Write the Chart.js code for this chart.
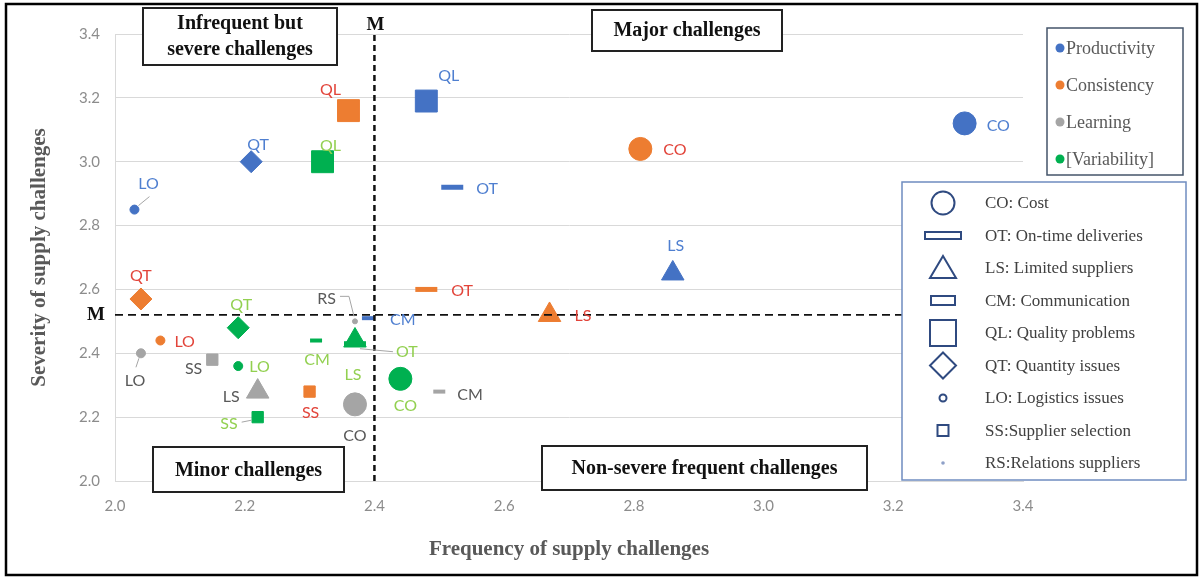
<!DOCTYPE html>
<html>
<head>
<meta charset="UTF-8">
<script src="https://cdn.jsdelivr.net/npm/chart.js@4.4.1/dist/chart.umd.min.js"></script>
<style>
  html, body { margin: 0; padding: 0; background: #fff; }
</style>
</head>
<body>
<canvas id="myChart" width="1201" height="579"></canvas>
<script>
// mean lines ("M")
const meanFreq = 2.40;
const meanSev = 2.52;

// axis ticks
const freqTicks = [2.0, 2.2, 2.4, 2.6, 2.8, 3.0, 3.2, 3.4];
const sevTicks = [2.0, 2.2, 2.4, 2.6, 2.8, 3.0, 3.2, 3.4];

// Productivity
const prodCodes = ['CO', 'QL', 'OT', 'LS', 'QT', 'LO', 'CM'];
const prodFreq  = [3.31, 2.48, 2.52, 2.86, 2.21, 2.03, 2.39];
const prodSev   = [3.12, 3.19, 2.92, 2.65, 3.00, 2.85, 2.51];

// Consistency
const consCodes = ['CO', 'QL', 'OT', 'LS', 'QT', 'LO', 'SS'];
const consFreq  = [2.81, 2.36, 2.48, 2.67, 2.04, 2.07, 2.30];
const consSev   = [3.04, 3.16, 2.60, 2.52, 2.57, 2.44, 2.28];

// Learning
const learnCodes = ['CO', 'LS', 'SS', 'LO', 'CM', 'RS'];
const learnFreq  = [2.37, 2.22, 2.15, 2.04, 2.50, 2.37];
const learnSev   = [2.24, 2.28, 2.38, 2.40, 2.28, 2.50];

// [Variability]
const varCodes = ['CO', 'QL', 'QT', 'LO', 'SS', 'CM', 'LS', 'OT'];
const varFreq  = [2.44, 2.32, 2.19, 2.19, 2.22, 2.31, 2.37, 2.37];
const varSev   = [2.32, 3.00, 2.48, 2.36, 2.20, 2.44, 2.44, 2.43];

// marker shape per challenge type
const markerStyle = {
  CO: { style: 'circle',   r: 11.5, bw: 1 },
  OT: { style: 'line',     r: 11,   bw: 5 },
  LS: { style: 'triangle', r: 13,   bw: 1 },
  CM: { style: 'line',     r: 6,    bw: 4 },
  QL: { style: 'rect',     r: 15.5, bw: 1 },
  QT: { style: 'rectRot',  r: 11,   bw: 1 },
  LO: { style: 'circle',   r: 4.5,  bw: 1 },
  SS: { style: 'rect',     r: 8,    bw: 1 },
  RS: { style: 'circle',   r: 2.5,  bw: 1 }
};

// label placement: [dx, dy, align, leader path]
const labelPos = {
  Productivity: {
    CO: [22, 2, 'left'], QL: [12, -25, 'left'], OT: [24, 2, 'left'], LS: [3, -28, 'center'],
    QT: [7, -17, 'center'], LO: [14, -26, 'center', [[4, -4], [15, -13]]], CM: [22, 2, 'left']
  },
  Consistency: {
    CO: [23, 1, 'left'], QL: [-18, -21, 'center'], OT: [25, 1, 'left'], LS: [25, 1, 'left'],
    QT: [0, -23, 'center'], LO: [14, 1, 'left'], SS: [1, 21, 'center']
  },
  Learning: {
    CO: [0, 31, 'center'], LS: [-18, 5, 'right'], SS: [-10, 9, 'right'],
    LO: [-6, 28, 'center', [[-2, 5], [-5, 14]]], CM: [18, 3, 'left'],
    RS: [-19, -23, 'right', [[-15, -25], [-6, -25], [-1, -5]]]
  },
  Variability: {
    CO: [5, 27, 'center'], QL: [8, -16, 'center'], QT: [3, -23, 'center'], LO: [11, 1, 'left'],
    SS: [-20, 7, 'right', [[-16, 5], [-6, 3]]], CM: [1, 19, 'center'], LS: [-2, 34, 'center'],
    OT: [41, 8, 'left', [[5, 5], [38, 8]]]
  }
};

function makeSet(label, codes, fx, sy, color, textColor) {
  return {
    label: label,
    codes: codes,
    textColor: textColor,
    data: codes.map((c, i) => ({ x: fx[i], y: sy[i] })),
    pointStyle: codes.map(c => markerStyle[c].style),
    pointRadius: codes.map(c => markerStyle[c].r),
    pointBorderWidth: codes.map(c => markerStyle[c].bw),
    backgroundColor: color,
    borderColor: color,
    showLine: false
  };
}

const serif = '"Liberation Serif", "Times New Roman", serif';
const sans = 'Lato, "Open Sans", sans-serif';

const decor = {
  id: 'decor',
  beforeDraw(chart) {
    const c = chart.ctx;
    c.save();
    c.fillStyle = '#fff';
    c.fillRect(0, 0, chart.width, chart.height);
    c.restore();
  },
  afterDatasetsDraw(chart) {
    const c = chart.ctx;
    c.save();
    c.font = '16px ' + sans;
    c.textBaseline = 'middle';
    chart.data.datasets.forEach((ds, di) => {
      if (!ds.codes) return;
      const meta = chart.getDatasetMeta(di);
      const pos = labelPos[ds.label];
      ds.codes.forEach((code, i) => {
        const p = meta.data[i];
        const lp = pos[code];
        if (!lp) return;
        if (lp[3]) {
          c.strokeStyle = '#a6a6a6';
          c.lineWidth = 1;
          c.beginPath();
          lp[3].forEach((q, k) => {
            if (k === 0) c.moveTo(p.x + q[0], p.y + q[1]);
            else c.lineTo(p.x + q[0], p.y + q[1]);
          });
          c.stroke();
        }
        c.fillStyle = ds.textColor;
        c.textAlign = lp[2];
        c.fillText(code, p.x + lp[0], p.y + lp[1]);
      });
    });
    c.restore();
  },
  afterDraw(chart) {
    const c = chart.ctx;
    c.save();

    // quadrant boxes
    const boxes = [
      { x: 143, y: 8, w: 194, h: 57, lines: ['Infrequent but', 'severe challenges'], ty: [24, 50] },
      { x: 592, y: 10, w: 190, h: 41, lines: ['Major challenges'], ty: [31] },
      { x: 153, y: 447, w: 191, h: 45, lines: ['Minor challenges'], ty: [471] },
      { x: 542, y: 446, w: 325, h: 44, lines: ['Non-severe frequent challenges'], ty: [469] }
    ];
    boxes.forEach(b => {
      c.fillStyle = '#fff';
      c.fillRect(b.x, b.y, b.w, b.h);
      c.strokeStyle = '#222';
      c.lineWidth = 2;
      c.strokeRect(b.x, b.y, b.w, b.h);
      c.fillStyle = '#111';
      c.font = 'bold 20px ' + serif;
      c.textAlign = 'center';
      c.textBaseline = 'middle';
      b.lines.forEach((t, k) => c.fillText(t, b.x + b.w / 2, b.ty[k]));
    });

    // M labels
    c.font = 'bold 19px ' + serif;
    c.fillStyle = '#111';
    c.textAlign = 'center';
    c.fillText('M', chart.scales.x.getPixelForValue(meanFreq) + 1, 25);
    c.fillText('M', 96, chart.scales.y.getPixelForValue(meanSev));

    // series legend
    const series = [['Productivity', '#4472c4'], ['Consistency', '#ed7d31'], ['Learning', '#a5a5a5'], ['[Variability]', '#00b050']];
    c.fillStyle = '#fff';
    c.fillRect(1047, 28, 136, 147);
    c.strokeStyle = '#44546a';
    c.lineWidth = 1.5;
    c.strokeRect(1047, 28, 136, 147);
    const sy = [48, 85, 122, 159];
    series.forEach((s, k) => {
      c.fillStyle = s[1];
      c.beginPath();
      c.arc(1060, sy[k], 4.5, 0, Math.PI * 2);
      c.fill();
      c.fillStyle = '#595959';
      c.font = '18px ' + serif;
      c.textAlign = 'left';
      c.fillText(s[0], 1066, sy[k] + 1);
    });

    // shape legend
    c.fillStyle = '#fff';
    c.fillRect(902, 182, 284, 298);
    c.strokeStyle = '#6f8cc0';
    c.lineWidth = 1.5;
    c.strokeRect(902, 182, 284, 298);
    const items = [
      ['CO', 'CO: Cost'], ['OT', 'OT: On-time deliveries'], ['LS', 'LS: Limited suppliers'],
      ['CM', 'CM: Communication'], ['QL', 'QL: Quality problems'], ['QT', 'QT: Quantity issues'],
      ['LO', 'LO: Logistics issues'], ['SS', 'SS:Supplier selection'], ['RS', 'RS:Relations suppliers']
    ];
    const cx = 943;
    items.forEach((it, k) => {
      const y = 203 + k * 32.5;
      c.strokeStyle = '#2f4a80';
      c.lineWidth = 2;
      c.beginPath();
      switch (it[0]) {
        case 'CO': c.arc(cx, y, 11.5, 0, Math.PI * 2); c.stroke(); break;
        case 'OT': c.strokeRect(cx - 18, y - 3.5, 36, 7); break;
        case 'LS':
          c.moveTo(cx, y - 12); c.lineTo(cx + 13, y + 10); c.lineTo(cx - 13, y + 10); c.closePath(); c.stroke(); break;
        case 'CM': c.strokeRect(cx - 12, y - 4.5, 24, 9); break;
        case 'QL': c.strokeRect(cx - 13, y - 13, 26, 26); break;
        case 'QT':
          c.moveTo(cx, y - 13); c.lineTo(cx + 13, y); c.lineTo(cx, y + 13); c.lineTo(cx - 13, y); c.closePath(); c.stroke(); break;
        case 'LO': c.arc(cx, y, 3.5, 0, Math.PI * 2); c.stroke(); break;
        case 'SS': c.strokeRect(cx - 5.5, y - 5.5, 11, 11); break;
        case 'RS': c.fillStyle = '#8ea0c8'; c.arc(cx, y, 1.8, 0, Math.PI * 2); c.fill(); break;
      }
      c.fillStyle = '#404040';
      c.font = '17px ' + serif;
      c.textAlign = 'left';
      c.textBaseline = 'middle';
      c.fillText(it[1], 985, y + 1);
    });

    // outer frame
    c.strokeStyle = '#000';
    c.lineWidth = 2.5;
    c.strokeRect(6, 4, 1191, 571);
    c.restore();
  }
};

const ctx = document.getElementById('myChart').getContext('2d');
const chart = new Chart(ctx, {
  type: 'scatter',
  data: {
    datasets: [
      {
        label: 'meanV',
        data: [{ x: meanFreq, y: 2.0 }, { x: meanFreq, y: 3.4 }],
        showLine: true, pointRadius: 0, borderColor: '#111', borderWidth: 2.5, borderDash: [6, 4]
      },
      {
        label: 'meanH',
        data: [{ x: 2.0, y: meanSev }, { x: 3.4, y: meanSev }],
        showLine: true, pointRadius: 0, borderColor: '#111', borderWidth: 1.8, borderDash: [8, 5]
      },
      makeSet('Productivity', prodCodes, prodFreq, prodSev, '#4472c4', '#4f7fd0'),
      makeSet('Consistency', consCodes, consFreq, consSev, '#ed7d31', '#e2443a'),
      makeSet('Learning', learnCodes, learnFreq, learnSev, '#a5a5a5', '#595959'),
      makeSet('Variability', varCodes, varFreq, varSev, '#00b050', '#92d050')
    ]
  },
  options: {
    responsive: false,
    animation: false,
    devicePixelRatio: 1,
    layout: { padding: { left: 0, right: 178, top: 34, bottom: 0 } },
    plugins: { legend: { display: false }, tooltip: { enabled: false } },
    scales: {
      x: {
        type: 'linear', min: 2.0, max: 3.4,
        afterBuildTicks: s => { s.ticks = freqTicks.map(v => ({ value: v })); },
        afterFit: s => { s.height = 98; },
        ticks: { callback: v => v.toFixed(1), color: '#8c8c8c', font: { family: sans, size: 15 }, padding: 16 },
        grid: { display: false, drawTicks: false },
        border: { display: true, color: '#d9d9d9', width: 1 },
        title: {
          display: true, text: 'Frequency of supply challenges', color: '#595959',
          font: { family: serif, size: 21, weight: 'bold' }, padding: { top: 0, bottom: 17 }
        }
      },
      y: {
        type: 'linear', min: 2.0, max: 3.4,
        afterBuildTicks: s => { s.ticks = sevTicks.map(v => ({ value: v })); },
        afterFit: s => { s.width = 115; },
        ticks: { callback: v => v.toFixed(1), color: '#8c8c8c', font: { family: sans, size: 15 }, padding: 15 },
        grid: { color: '#d9d9d9', drawTicks: false },
        border: { display: true, color: '#d9d9d9', width: 1 },
        title: {
          display: true, text: 'Severity of supply challenges', color: '#595959',
          font: { family: serif, size: 21, weight: 'bold' }, padding: { top: 27, bottom: 0 }
        }
      }
    }
  },
  plugins: [decor]
});
</script>
</body>
</html>
